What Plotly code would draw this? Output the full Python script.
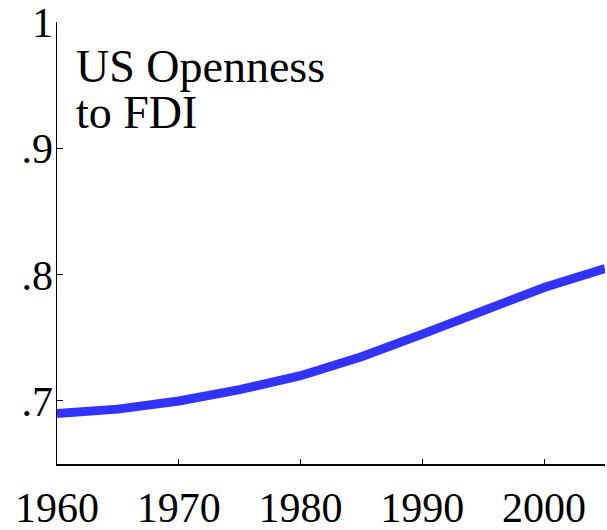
import plotly.graph_objects as go

years = [1960, 1965, 1970, 1975, 1980, 1985, 1990, 1995, 2000, 2005]
openness = [0.690, 0.6935, 0.700, 0.709, 0.720, 0.735, 0.753, 0.772, 0.790, 0.805]

y_tickvals = [0.7, 0.8, 0.9, 1.0]
y_ticktext = [".7", ".8", ".9", "1"]
x_tickvals = [1960, 1970, 1980, 1990, 2000]
x_ticktext = ["1960", "1970", "1980", "1990", "2000"]
title_lines = ["US Openness", "to FDI"]

FONT = "Liberation Serif, Times New Roman, serif"

fig = go.Figure()
fig.add_trace(go.Scatter(
    x=years, y=openness, mode="lines",
    line=dict(color="rgb(51,51,255)", width=9),
    hoverinfo="skip", showlegend=False, cliponaxis=True,
))

fig.update_layout(
    width=607, height=530,
    margin=dict(l=57, r=2, t=22, b=66, autoexpand=False),
    paper_bgcolor="white", plot_bgcolor="white",
    font=dict(family=FONT, color="black", size=42),
    xaxis=dict(
        range=[1960, 2005], tickvals=x_tickvals, ticktext=x_ticktext,
        showgrid=False, zeroline=False, showline=True, linecolor="black", linewidth=1.5,
        ticks="inside", ticklen=5, tickwidth=1, tickcolor="black", automargin=False,
        tickfont=dict(family=FONT, size=42), ticklabelstandoff=6,
        ticklabeloverflow="allow",
    ),
    yaxis=dict(
        range=[0.65, 1.0005], tickvals=y_tickvals, ticktext=y_ticktext,
        showgrid=False, zeroline=False, showline=True, linecolor="black", linewidth=1.5,
        ticks="inside", ticklen=6, tickwidth=1, tickcolor="black", automargin=False,
        tickfont=dict(family=FONT, size=42), ticklabelstandoff=-6,
        ticklabeloverflow="allow",
    ),
)

fig.add_annotation(
    text=title_lines[0], xref="paper", yref="paper", x=0.031, y=0.962,
    xanchor="left", yanchor="top", showarrow=False,
    font=dict(family=FONT, size=46, color="black"),
)
fig.add_annotation(
    text=title_lines[1], xref="paper", yref="paper", x=0.031, y=0.857,
    xanchor="left", yanchor="top", showarrow=False,
    font=dict(family=FONT, size=46, color="black"),
)

fig.write_html(
    "out.html",
    config={"displayModeBar": False, "staticPlot": True},
    post_script="document.body.style.margin='0';document.body.style.overflow='hidden';",
)
